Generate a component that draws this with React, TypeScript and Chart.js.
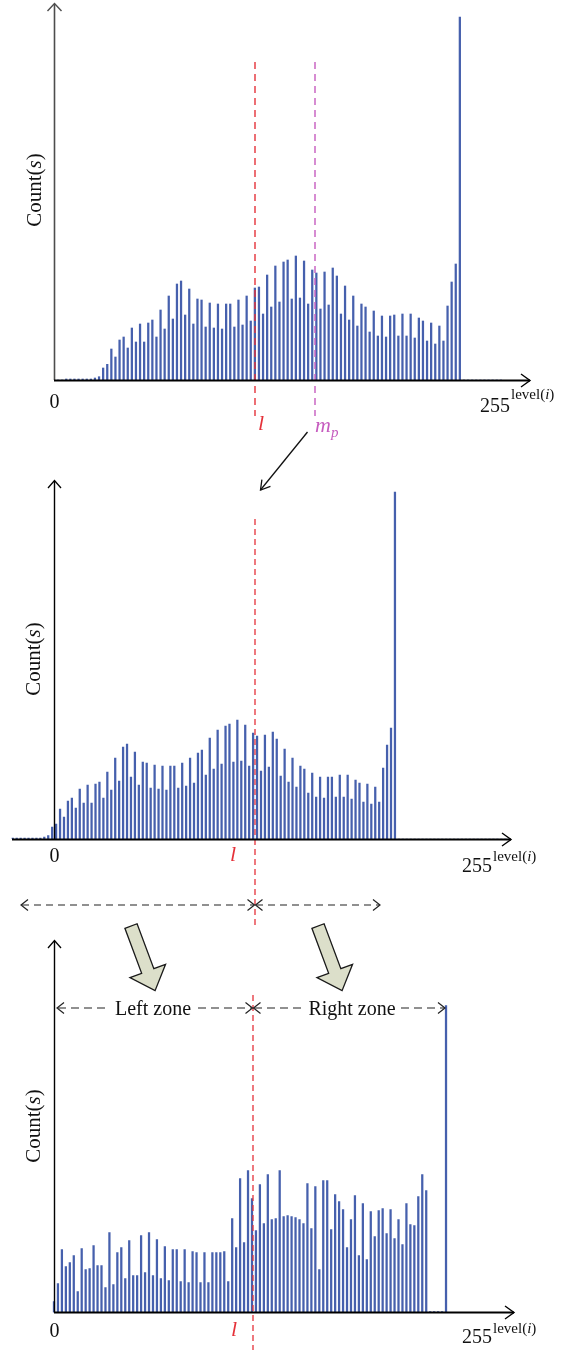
import React, { useEffect, useRef } from 'react';
import { Chart, registerables } from 'chart.js';

Chart.register(...registerables);

const FONT = '"Liberation Serif", "Times New Roman", serif';
const BAR = '#4660ad';
const RED = '#e5323a';
const MAG = '#c65cbf';

// Panel 1: original histogram (bins of the drawn histogram, left to right)
const counts1 = [
  0, 0, 1, 1, 1, 1, 1, 1, 1,
  2, 3.3, 12, 15.7, 31, 23, 40, 43, 32, 52, 38, 56, 38, 57, 60, 43, 70, 51, 84, 61,
  96, 99, 65, 91, 56, 81, 80, 53, 77, 52, 76, 51, 76, 76, 53, 80, 55, 84, 59,
  92, 93, 66, 105, 73, 114, 78, 118, 120, 81, 124, 82, 119, 76, 110, 107, 71, 108, 75,
  112, 104, 66, 94, 60, 84, 54, 76, 73, 48, 69, 44, 64, 43, 64, 65, 44, 66, 44, 66,
  42, 62, 59, 39, 57, 36, 54, 39, 74, 98, 116, 363,
  0, 0, 0, 0, 0, 0, 0, 0, 0, 0,
];

// Panel 2: shifted histogram
const counts2 = [
  1, 1, 1, 1, 1, 1, 1, 1, 2, 3.3,
  12, 15, 30, 22, 38, 41, 31, 50, 36, 54, 36, 55, 57, 41, 67, 49, 81, 58, 92, 95,
  62, 87, 54, 77, 76, 51, 74, 50, 73, 49, 73, 73, 51, 76, 53, 81, 56, 86, 89, 64,
  101, 70, 109, 75, 113, 115, 77, 119, 78, 114,
  73, 106, 103, 68, 104, 72, 107, 100, 63, 90, 57, 81, 52, 73, 70, 46, 66, 42, 62, 41,
  62, 62, 42, 64, 42, 64, 40, 59, 56, 37, 55, 35, 52, 37, 71, 94, 111, 347,
  0, 0, 0, 0, 0, 0, 0, 0, 0, 0, 0, 0, 0, 0, 0, 0, 0, 0, 0, 0,
  0, 0, 0, 0, 0, 0, 0, 0, 0,
];

// Panel 3: equalized left / right zones
const counts3 = [
  11, 29, 63, 46, 50, 57, 21, 64, 43, 44, 67, 47, 47, 25, 80, 28, 60, 65, 34, 72,
  37, 37, 77, 40, 80, 37, 73, 34, 66, 32, 63, 63, 31, 63, 30, 61, 60, 30, 60, 30,
  60, 60, 60, 61, 31,
  94, 65, 134, 70, 142, 114, 82, 128, 89, 138, 93, 94, 142, 96, 97, 96, 95, 93, 89, 129,
  84, 126, 43, 132, 132, 83, 118, 111, 103, 65, 93, 117, 57, 109, 53, 101, 76, 102, 104, 79,
  103, 74, 93, 68, 109, 88, 87, 116, 138, 122,
  1, 1, 1, 1, 307,
  0, 0, 0, 0, 0, 0, 0, 0, 0, 0, 0, 0, 0, 0, 0, 0, 0,
];

const axisMin = '0';
const axisMax = '255';
const axisSup = ['level(', 'i', ')'];
const countText = ['Count(', 's', ')'];
const zoneLabels = ['Left zone', 'Right zone'];

type Ctx = CanvasRenderingContext2D;

function seg(ctx: Ctx, x1: number, y1: number, x2: number, y2: number, color: string, w: number, dash: number[] = []) {
  ctx.save();
  ctx.strokeStyle = color;
  ctx.lineWidth = w;
  ctx.setLineDash(dash);
  ctx.beginPath();
  ctx.moveTo(x1, y1);
  ctx.lineTo(x2, y2);
  ctx.stroke();
  ctx.restore();
}

function chevron(ctx: Ctx, tx: number, ty: number, dx: number, dy: number, len: number, half: number, color: string, w: number) {
  const n = Math.hypot(dx, dy);
  const ux = dx / n, uy = dy / n;
  const px = -uy, py = ux;
  const bx = tx - ux * len, by = ty - uy * len;
  ctx.save();
  ctx.strokeStyle = color;
  ctx.lineWidth = w;
  ctx.setLineDash([]);
  ctx.beginPath();
  ctx.moveTo(bx + px * half, by + py * half);
  ctx.lineTo(tx, ty);
  ctx.lineTo(bx - px * half, by - py * half);
  ctx.stroke();
  ctx.restore();
}

type Run = { t: string; font: string; color?: string; dy?: number };

function runs(ctx: Ctx, list: Run[], x: number, y: number, align: 'left' | 'center' = 'left') {
  ctx.save();
  ctx.textBaseline = 'alphabetic';
  ctx.textAlign = 'left';
  let total = 0;
  for (const r of list) { ctx.font = r.font; total += ctx.measureText(r.t).width; }
  let cx = align === 'center' ? x - total / 2 : x;
  for (const r of list) {
    ctx.font = r.font;
    ctx.fillStyle = r.color || '#111';
    ctx.fillText(r.t, cx, y + (r.dy || 0));
    cx += ctx.measureText(r.t).width;
  }
  ctx.restore();
}

function countLabel(ctx: Ctx, cx: number, cy: number) {
  ctx.save();
  ctx.translate(cx, cy);
  ctx.rotate(-Math.PI / 2);
  runs(ctx, [
    { t: countText[0], font: `21px ${FONT}` },
    { t: countText[1], font: `italic 21px ${FONT}` },
    { t: countText[2], font: `21px ${FONT}` },
  ], 0, 7.5, 'center');
  ctx.restore();
}

function maxLabel(ctx: Ctx, x: number, y: number, supY: number) {
  runs(ctx, [{ t: axisMax, font: `20px ${FONT}` }], x, y);
  ctx.save();
  ctx.font = `20px ${FONT}`;
  const w = ctx.measureText(axisMax).width;
  ctx.restore();
  runs(ctx, [
    { t: axisSup[0], font: `15px ${FONT}` },
    { t: axisSup[1], font: `italic 15px ${FONT}` },
    { t: axisSup[2], font: `15px ${FONT}` },
  ], x + w + 1, supY);
}

function blockArrow(ctx: Ctx, tx: number, ty: number, dx: number, dy: number) {
  const n = Math.hypot(dx, dy);
  const ux = dx / n, uy = dy / n;
  const px = uy, py = -ux; // right-hand perpendicular
  const Ls = 48, Lh = 21, Ws = 6.5, Wh = 19;
  const P = (a: number, b: number) => [tx + ux * a + px * b, ty + uy * a + py * b];
  const pts = [P(0, -Ws), P(0, Ws), P(Ls, Ws), P(Ls, Wh), P(Ls + Lh, 0), P(Ls, -Wh), P(Ls, -Ws)];
  ctx.save();
  ctx.beginPath();
  pts.forEach((p, i) => (i ? ctx.lineTo(p[0], p[1]) : ctx.moveTo(p[0], p[1])));
  ctx.closePath();
  ctx.fillStyle = '#dcdfca';
  ctx.fill();
  ctx.strokeStyle = '#1a1a1a';
  ctx.lineWidth = 1.3;
  ctx.lineJoin = 'miter';
  ctx.stroke();
  ctx.restore();
}

function drawPanel1(ctx: Ctx) {
  seg(ctx, 255, 62, 255, 416, RED, 1.4, [7, 5]);
  seg(ctx, 315, 62, 315, 416, MAG, 1.4, [7, 5]);
  seg(ctx, 54.5, 380, 54.5, 4, '#4d4d4d', 1.6);
  chevron(ctx, 54.5, 3.5, 0, -1, 7.5, 7, '#4d4d4d', 1.4);
  seg(ctx, 54, 380.5, 530, 380.5, '#000', 2);
  chevron(ctx, 530, 380.5, 1, 0, 9, 6.5, '#000', 1.4);
  runs(ctx, [{ t: axisMin, font: `20px ${FONT}` }], 54.5, 408, 'center');
  maxLabel(ctx, 480, 412, 399);
  countLabel(ctx, 33, 190);
  runs(ctx, [{ t: 'l', font: `italic 22px ${FONT}`, color: RED }], 258, 430);
  runs(ctx, [
    { t: 'm', font: `italic 22px ${FONT}`, color: MAG },
    { t: 'p', font: `italic 15px ${FONT}`, color: MAG, dy: 5 },
  ], 315, 432);
  seg(ctx, 307.5, 432, 260.5, 490, '#111', 1.3);
  chevron(ctx, 260.5, 490, -47, 58, 9, 5.5, '#111', 1.3);
}

function drawPanel2(ctx: Ctx) {
  seg(ctx, 255, 519, 255, 929, RED, 1.3, [6, 4]);
  seg(ctx, 54.5, 839, 54.5, 481, '#000', 1.4);
  chevron(ctx, 54.5, 480.5, 0, -1, 7.5, 6.5, '#000', 1.3);
  seg(ctx, 12, 839.5, 511, 839.5, '#000', 1.8);
  chevron(ctx, 511, 839.5, 1, 0, 9, 6.5, '#000', 1.4);
  runs(ctx, [{ t: axisMin, font: `20px ${FONT}` }], 54.5, 862, 'center');
  maxLabel(ctx, 462, 872, 861);
  countLabel(ctx, 32, 659);
  runs(ctx, [{ t: 'l', font: `italic 22px ${FONT}`, color: RED }], 230, 861);
  // double arrow
  seg(ctx, 22, 905, 254, 905, '#222', 1.2, [7, 5]);
  seg(ctx, 256, 905, 379, 905, '#222', 1.2, [7, 5]);
  chevron(ctx, 21, 905, -1, 0, 7, 5.5, '#222', 1.2);
  chevron(ctx, 254.5, 905, 1, 0, 7, 5.5, '#222', 1.2);
  chevron(ctx, 255.5, 905, -1, 0, 7, 5.5, '#222', 1.2);
  chevron(ctx, 380, 905, 1, 0, 7, 5.5, '#222', 1.2);
  blockArrow(ctx, 131, 926, 0.35, 0.94);
  blockArrow(ctx, 318, 926, 0.35, 0.94);
}

function drawPanel3(ctx: Ctx) {
  seg(ctx, 253, 995, 253, 1350, RED, 1.3, [6, 4]);
  seg(ctx, 54.5, 1312.5, 54.5, 941, '#000', 1.4);
  chevron(ctx, 54.5, 940.5, 0, -1, 7.5, 6.5, '#000', 1.3);
  seg(ctx, 54, 1312.5, 514, 1312.5, '#000', 1.8);
  chevron(ctx, 514, 1312.5, 1, 0, 9, 6.5, '#000', 1.4);
  runs(ctx, [{ t: axisMin, font: `20px ${FONT}` }], 54.5, 1337, 'center');
  maxLabel(ctx, 462, 1343, 1333);
  countLabel(ctx, 32, 1126);
  runs(ctx, [{ t: 'l', font: `italic 22px ${FONT}`, color: RED }], 231, 1336);
  // zone line
  const y = 1008;
  seg(ctx, 58, y, 108, y, '#222', 1.2, [8, 5]);
  seg(ctx, 198, y, 252, y, '#222', 1.2, [8, 5]);
  seg(ctx, 254, y, 303, y, '#222', 1.2, [8, 5]);
  seg(ctx, 401, y, 444, y, '#222', 1.2, [8, 5]);
  chevron(ctx, 57, y, -1, 0, 7, 5.5, '#222', 1.2);
  chevron(ctx, 252.5, y, 1, 0, 7, 5.5, '#222', 1.2);
  chevron(ctx, 253.5, y, -1, 0, 7, 5.5, '#222', 1.2);
  chevron(ctx, 445, y, 1, 0, 7, 5.5, '#222', 1.2);
  runs(ctx, [{ t: zoneLabels[0], font: `20px ${FONT}` }], 153, 1015, 'center');
  runs(ctx, [{ t: zoneLabels[1], font: `20px ${FONT}` }], 352, 1015, 'center');
}

type Panel = {
  top: number;
  height: number;
  counts: number[];
  yMax: number;
  pad: { left: number; right: number; top: number; bottom: number };
  draw: (ctx: Ctx) => void;
};

const W = 565;

const panels: Panel[] = [
  { top: 0, height: 500, counts: counts1, yMax: 377, pad: { left: 56, right: W - (56 + 109 * 4.1), top: 3, bottom: 500 - 380 }, draw: drawPanel1 },
  { top: 470, height: 530, counts: counts2, yMax: 359, pad: { left: 10.8, right: W - (10.8 + 127 * 3.94), top: 10, bottom: 530 - 369 }, draw: drawPanel2 },
  { top: 930, height: 420, counts: counts3, yMax: 372.5, pad: { left: 52, right: W - (52 + 117 * 3.96), top: 10, bottom: 420 - 382.5 }, draw: drawPanel3 },
];

function PanelChart({ p }: { p: Panel }) {
  const ref = useRef<HTMLCanvasElement>(null);
  useEffect(() => {
    if (!ref.current) return;
    const chart = new Chart(ref.current, {
      type: 'bar',
      data: {
        labels: p.counts.map((_, i) => String(i)),
        datasets: [{ data: p.counts, backgroundColor: BAR, borderWidth: 0, barThickness: 1.6 }],
      },
      options: {
        responsive: false,
        animation: false,
        devicePixelRatio: 1,
        events: [],
        layout: { padding: p.pad },
        scales: {
          x: { display: false, offset: true, grid: { display: false } },
          y: { display: false, min: 0, max: p.yMax, grid: { display: false } },
        },
        plugins: { legend: { display: false }, tooltip: { enabled: false } },
      },
      plugins: [{
        id: 'annotations',
        afterDatasetsDraw(c: any) {
          const ctx = c.ctx as Ctx;
          ctx.save();
          ctx.translate(0, -p.top);
          p.draw(ctx);
          ctx.restore();
        },
      }],
    } as any);
    return () => chart.destroy();
  }, [p]);
  return (
    <canvas
      ref={ref}
      width={W}
      height={p.height}
      style={{ position: 'absolute', left: 0, top: p.top, width: W, height: p.height }}
    />
  );
}

export default function App() {
  return (
    <div style={{ position: 'absolute', left: 0, top: 0, width: W, height: 1350, background: '#fff' }}>
      {panels.map((p, i) => <PanelChart key={i} p={p} />)}
    </div>
  );
}
